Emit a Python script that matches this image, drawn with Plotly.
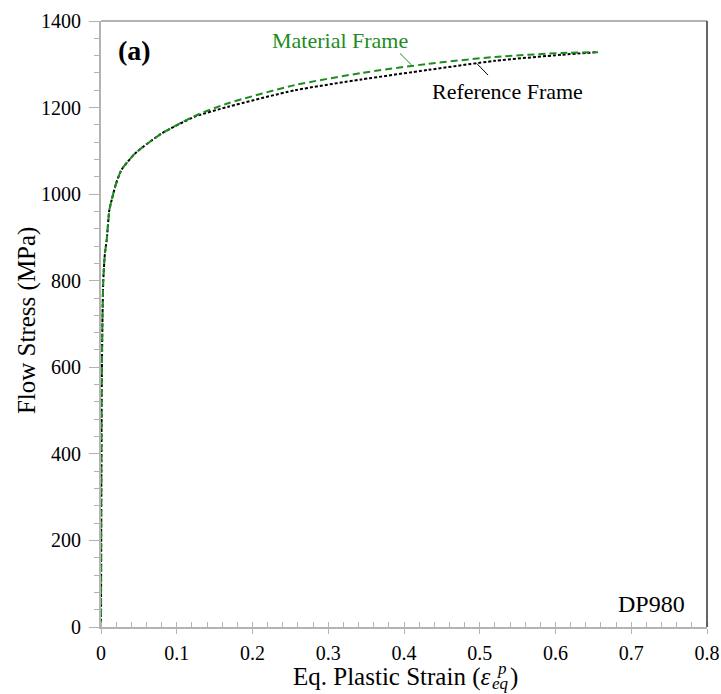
import plotly.graph_objects as go

# Equivalent plastic strain and flow stress (MPa) for DP980
strain = [0, 0.0005, 0.001, 0.002, 0.003, 0.005, 0.0075, 0.011, 0.014, 0.02,
          0.027, 0.045, 0.08, 0.124, 0.168, 0.256, 0.344, 0.432, 0.52,
          0.608, 0.656]
stress_reference = [0, 350, 560, 720, 800, 860, 894, 963, 986, 1025,
                    1056, 1094, 1140, 1179, 1202, 1240, 1265, 1287, 1308,
                    1322, 1328]
stress_material = [0, 350, 560, 720, 800, 860, 894, 963, 986, 1025,
                   1056, 1094, 1140, 1181, 1210, 1252, 1280, 1301, 1317,
                   1326, 1328]

FONT = "Liberation Serif"
GREEN = "#1e8c1e"
AXIS_GRAY = "#b3b3b3"

fig = go.Figure()
fig.add_trace(go.Scatter(
    x=strain, y=stress_reference, mode="lines", name="Reference Frame",
    line=dict(color="black", width=2, dash="3px,2px", shape="spline",
              smoothing=0.6)))
fig.add_trace(go.Scatter(
    x=strain, y=stress_material, mode="lines", name="Material Frame",
    line=dict(color=GREEN, width=2, dash="7px,4px", shape="spline",
              smoothing=0.6)))

axis_common = dict(
    showgrid=False, zeroline=False, showline=True, linecolor=AXIS_GRAY,
    linewidth=2, ticks="outside", tickcolor=AXIS_GRAY, tickwidth=1,
    automargin=False, ticklabeloverflow="allow",
    tickfont=dict(family=FONT, size=20, color="black"),
)

fig.update_xaxes(
    **axis_common, range=[0, 0.8], dtick=0.1, ticklen=5,
    ticklabelstandoff=2, tickformat="~g",
    minor=dict(dtick=0.02, ticks="inside", ticklen=5, tickcolor=AXIS_GRAY),
)
fig.update_yaxes(
    **axis_common, range=[0, 1400], dtick=200, ticklen=10,
    ticklabelstandoff=4,
    minor=dict(dtick=40, ticks="outside", ticklen=5, tickcolor=AXIS_GRAY),
)

# Axis titles (x title built from pieces so sub/superscript stack)
fig.add_annotation(xref="paper", yref="paper", x=-0.122, y=0.5066,
                   xanchor="center", yanchor="middle",
                   text="Flow Stress (MPa)", textangle=-90, showarrow=False,
                   font=dict(family=FONT, size=25, color="black"))
fig.add_annotation(xref="paper", yref="paper", x=0.645, y=-0.083,
                   xanchor="right", yanchor="middle", showarrow=False,
                   text="Eq. Plastic Strain (<i>ε</i>",
                   font=dict(family=FONT, size=25, color="black"))
fig.add_annotation(xref="paper", yref="paper", x=0.6425, y=-0.094,
                   xanchor="left", yanchor="middle", showarrow=False,
                   text="<i>eq</i>", font=dict(family=FONT, size=17, color="black"))
fig.add_annotation(xref="paper", yref="paper", x=0.6495, y=-0.068,
                   xanchor="left", yanchor="middle", showarrow=False,
                   text="<i>p</i>", font=dict(family=FONT, size=17, color="black"))
fig.add_annotation(xref="paper", yref="paper", x=0.6715, y=-0.083,
                   xanchor="left", yanchor="middle", showarrow=False,
                   text=")", font=dict(family=FONT, size=25, color="black"))

# Frame: gray top edge, dark right edge
fig.add_shape(type="line", xref="paper", yref="paper", x0=0, x1=1, y0=1, y1=1,
              line=dict(color=AXIS_GRAY, width=2))
fig.add_shape(type="line", xref="paper", yref="paper", x0=1, x1=1, y0=0, y1=1,
              line=dict(color="#333333", width=1.5))

# Leader lines for curve labels
fig.add_shape(type="line", x0=0.3947, y0=1325, x1=0.4102, y1=1298,
              line=dict(color=GREEN, width=1))
fig.add_shape(type="line", x0=0.496, y0=1302, x1=0.511, y1=1275,
              line=dict(color="black", width=1))

fig.add_annotation(x=0.3155, y=1356, text="Material Frame", showarrow=False,
                   font=dict(family=FONT, size=22, color=GREEN))
fig.add_annotation(x=0.536, y=1238, text="Reference Frame", showarrow=False,
                   font=dict(family=FONT, size=22, color="black"))
fig.add_annotation(x=0.0442, y=1333, text="<b>(a)</b>", showarrow=False,
                   font=dict(family=FONT, size=28, color="black"))
fig.add_annotation(x=0.7736, y=54, text="DP980", showarrow=False,
                   xanchor="right", font=dict(family=FONT, size=24, color="black"))

fig.update_layout(
    width=721, height=694, showlegend=False,
    paper_bgcolor="white", plot_bgcolor="white",
    margin=dict(l=101, r=14, t=21, b=67),
)

fig.write_html("out.html")
